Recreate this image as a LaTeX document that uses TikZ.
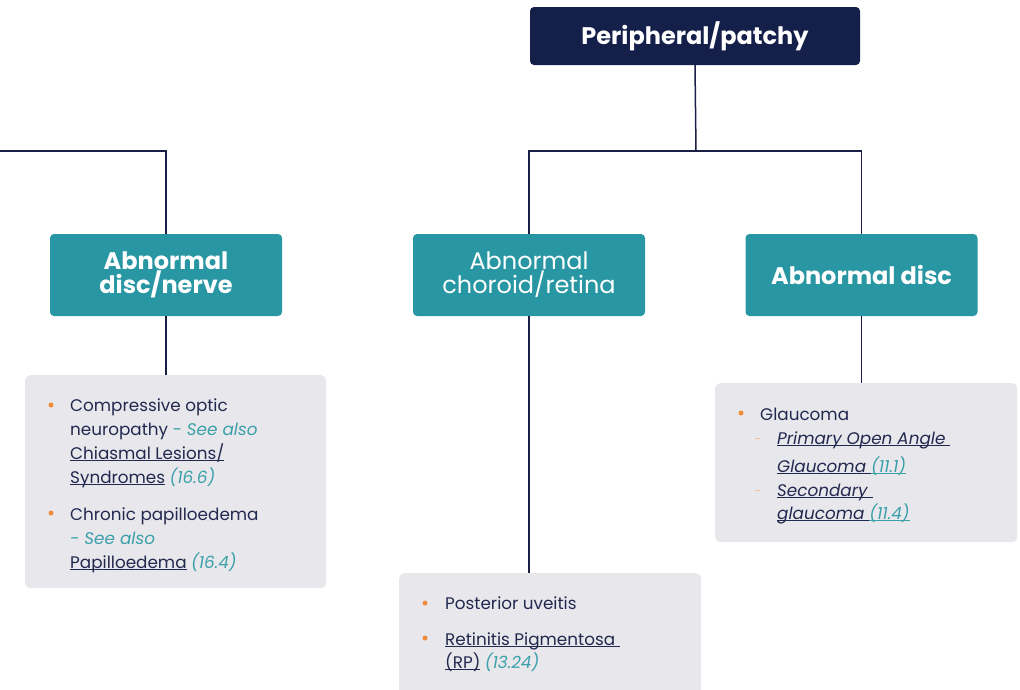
\documentclass[tikz,border=0pt]{standalone}
\usepackage{fontspec}
\setmainfont{Poppins}
\definecolor{navy}{HTML}{15204A}
\definecolor{linec}{HTML}{1C1F45}
\definecolor{tealbox}{HTML}{2896A3}
\definecolor{graybg}{HTML}{E8E7EC}
\definecolor{txtc}{HTML}{22294F}
\definecolor{tealtxt}{HTML}{3AA0AA}
\definecolor{orangec}{HTML}{F28C3A}
\definecolor{dashc}{HTML}{F5BE94}
\newcommand{\tl}[1]{{\color{tealtxt}\itshape #1}}
\newcommand{\myul}[1]{$\underline{\smash{\hbox{#1}}}$}
\tikzset{
  topbox/.style={fill=navy, rounded corners=4pt, minimum width=330pt, minimum height=58pt, text=white, font=\fontsize{24}{26}\selectfont\bfseries, inner sep=0pt},
  tbox/.style={fill=tealbox, rounded corners=4pt, minimum width=232pt, minimum height=82pt, text=white, align=center, inner sep=0pt},
  gbox/.style={fill=graybg, rounded corners=5pt, anchor=north west, inner sep=0pt},
  conn/.style={draw=linec, line width=1.5pt},
  txt/.style={anchor=base west, inner sep=0pt, text=txtc, font=\fontsize{16.8}{20}\selectfont},
  itx/.style={txt, font=\fontsize{16.8}{20}\selectfont\itshape},
  bul/.style={circle, fill=orangec, inner sep=0pt, minimum size=5pt},
  dsh/.style={fill=dashc, inner sep=0pt, minimum width=5pt, minimum height=1pt},
}
\begin{document}
\begin{tikzpicture}[x=1pt,y=-1pt]
\useasboundingbox (0,0) rectangle (1020,689);
% boxes
\node[topbox] (top) at (695,36) {Peripheral/patchy};
\node[tbox, font=\fontsize{24}{24}\selectfont\bfseries] (dn) at (166,275) {Abnormal\\disc/nerve};
\node[tbox, font=\fontsize{24}{24}\selectfont] (cr) at (529,275) {Abnormal\\choroid/retina};
\node[tbox, font=\fontsize{24}{24}\selectfont\bfseries] (ad) at (861.5,275) {Abnormal disc};
\node[gbox, minimum width=301pt, minimum height=213pt] (g1) at (25,375) {};
\node[gbox, minimum width=302pt, minimum height=130pt] (g2) at (399,573) {};
\node[gbox, minimum width=302pt, minimum height=159pt] (g3) at (715,383) {};
% connectors
\coordinate (j) at (696,151);
\coordinate (L) at (0,151);
\draw[conn] (top.south) -- (j);
\draw[conn] (cr.north) |- (j) -| (ad.north);
\draw[conn] (L) -| (dn.north);
\draw[conn] (dn.south) -- (dn.south |- g1.north);
\draw[conn] (cr.south) -- (cr.south |- g2.north);
\draw[conn] (ad.south) -- (ad.south |- g3.north);
% box 1
\node[bul] (b11) at (51,405) {};
\node[txt] (t11) at (70,411) {Compressive optic};
\node[txt] (t12) at (70,435) {neuropathy \tl{- See also}};
\node[txt] (t13) at (70,459) {\myul{Chiasmal Lesions/}};
\node[txt] (t14) at (70,483) {\myul{Syndromes} \tl{(16.6)}};
\node[bul] (b12) at (51,513) {};
\node[txt] (t15) at (70,520) {Chronic papilloedema};
\node[txt] (t16) at (70,544) {\tl{- See also}};
\node[txt] (t17) at (70,568) {\myul{Papilloedema} \tl{(16.4)}};
% box 2
\node[bul] (b21) at (425,603) {};
\node[txt] (t21) at (445,609) {Posterior uveitis};
\node[bul] (b22) at (425,638) {};
\node[txt] (t22) at (445,645) {\myul{Retinitis Pigmentosa\ }};
\node[txt] (t23) at (445,668) {\myul{(RP)} \tl{(13.24)}};
% box 3
\node[bul] (b31) at (741,413) {};
\node[txt] (t31) at (760,420) {Glaucoma};
\node[dsh] (d31) at (757,438) {};
\node[itx] (t32) at (777,444) {\myul{Primary Open Angle\ }};
\node[itx] (t33) at (777,472) {\myul{Glaucoma\ }{\color{tealtxt}\myul{(11.1)}}};
\node[dsh] (d32) at (757,490) {};
\node[itx] (t34) at (777,496) {\myul{Secondary\ }};
\node[itx] (t35) at (777,519) {\myul{glaucoma\ }{\color{tealtxt}\myul{(11.4)}}};
\end{tikzpicture}
\end{document}
